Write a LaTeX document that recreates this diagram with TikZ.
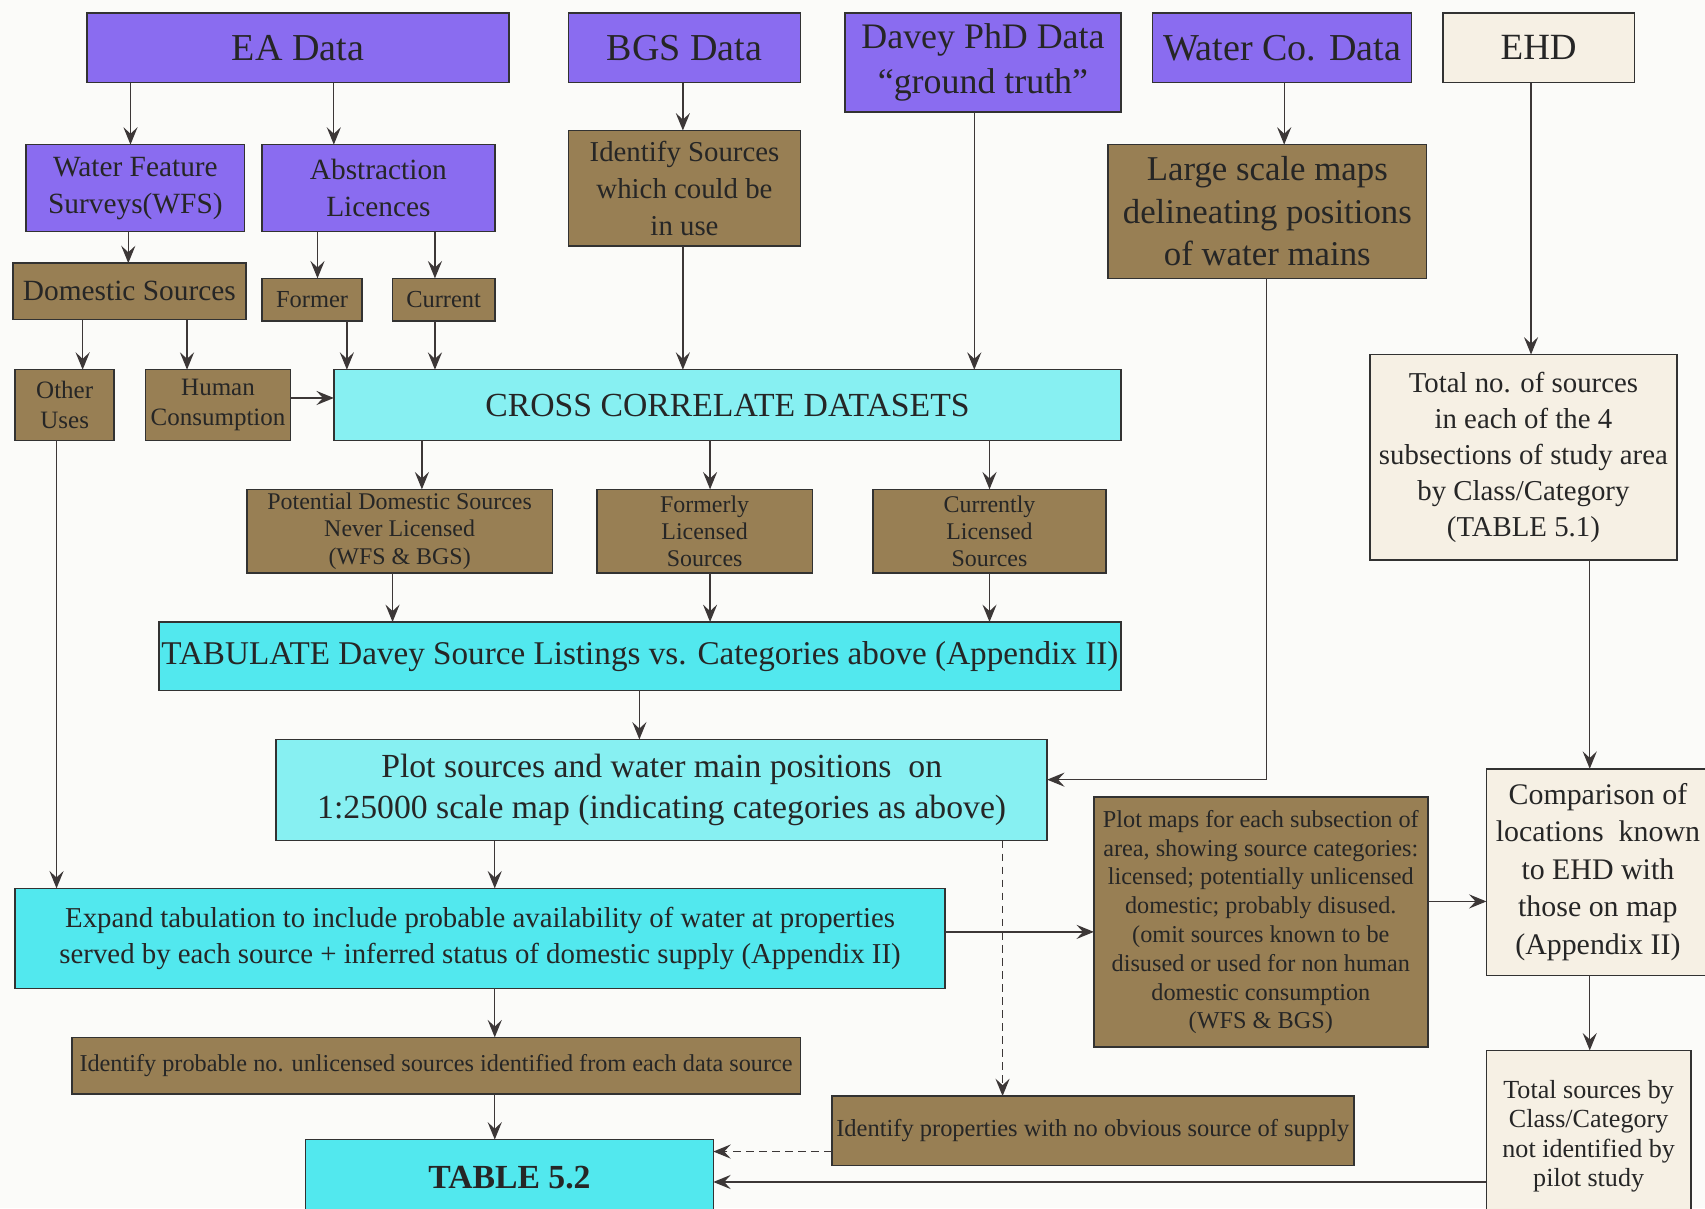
\documentclass[tikz,border=0pt]{standalone}
\usepackage{fontspec}
\setmainfont{Liberation Serif}
\usetikzlibrary{arrows.meta}
\definecolor{purp}{RGB}{138,108,240}
\definecolor{brn}{RGB}{152,127,84}
\definecolor{cyn}{RGB}{82,232,238}
\definecolor{lcyn}{RGB}{135,240,242}
\definecolor{crm}{RGB}{246,240,228}
\definecolor{bgc}{RGB}{251,251,249}
\definecolor{bordc}{RGB}{50,50,50}
\definecolor{linec}{RGB}{60,55,55}
\newcommand\bx[7]{%
  \pgfmathsetmacro\bxw{#4-#2}\pgfmathsetmacro\bxh{#5-#3}%
  \node[#6, minimum width=\bxw pt, minimum height=\bxh pt] (#1) at ({(#2+#4)/2},{(#3+#5)/2}) {#7};}
\begin{document}
\begin{tikzpicture}[x=1pt,y=-1pt,
  box/.style={draw=bordc, line width=1.4pt, inner sep=0pt, outer sep=0pt, align=center, text=black!85},
  pu/.style={box, fill=purp},
  br/.style={box, fill=brn},
  cy/.style={box, fill=cyn},
  lc/.style={box, fill=lcyn},
  cr/.style={box, fill=crm},
  fs/.style 2 args={font=\fontsize{#1}{#2}\selectfont},
  arr/.style={draw=linec, line width=1.2pt, -{Stealth[length=16pt,width=13pt,inset=6pt]}},
  dsh/.style={arr, dash pattern=on 7pt off 5pt}]
\fill[bgc] (0,0) rectangle (1568,1111);
\useasboundingbox (0,0) rectangle (1568,1111);

% row 1
\bx{ea}{80}{12}{468}{76}{pu,fs={35}{40}}{EA Data}
\bx{bgs}{523}{12}{736}{76}{pu,fs={35}{40}}{BGS Data}
\bx{dav}{777}{12}{1031}{103}{pu,fs={33}{41}}{Davey PhD Data\\“ground truth”}
\bx{wco}{1060}{12}{1298}{76}{pu,fs={35}{40}}{Water Co. Data}
\bx{ehd}{1327}{12}{1503}{76}{cr,fs={34}{40}}{EHD}

% row 2
\bx{wfs}{24}{133}{225}{213}{pu,fs={27}{34}}{Water Feature\\Surveys(WFS)}
\bx{abs}{241}{133}{455}{213}{pu,fs={27}{34}}{Abstraction\\Licences}
\bx{ids}{523}{120}{736}{226}{br,fs={26.5}{34}}{Identify Sources\\which could be\\in use}
\bx{lsm}{1019}{133}{1312}{256}{br,fs={32}{39}}{Large scale maps\\delineating positions\\of water mains}

% row 3
\bx{dom}{12}{242}{226}{294}{br,fs={27}{30}}{Domestic Sources}
\bx{for}{241}{256}{333}{295}{br,fs={22.5}{26}}{Former}
\bx{cur}{361}{256}{455}{295}{br,fs={22.5}{26}}{Current}

% row 4
\bx{oth}{14}{340}{105}{405}{br,fs={23}{28}}{Other\\Uses}
\bx{hum}{134}{340}{267}{405}{br,fs={23}{28}}{Human\\Consumption}
\bx{cross}{307}{340}{1031}{405}{lc,fs={31}{36}}{CROSS CORRELATE DATASETS}
\bx{tot}{1260}{326}{1542}{515}{cr,fs={26.5}{33}}{Total no. of sources\\in each of the 4\\subsections of study area\\by Class/Category\\(TABLE 5.1)}

% row 5
\bx{pot}{227}{450}{508}{527}{br,fs={22}{25}}{Potential Domestic Sources\\Never Licensed\\(WFS \& BGS)}
\bx{fls}{549}{450}{747}{527}{br,fs={22}{25}}{Formerly\\Licensed\\Sources}
\bx{cls}{803}{450}{1017}{527}{br,fs={22}{25}}{Currently\\Licensed\\Sources}

% row 6
\bx{tabu}{146}{572}{1031}{635}{cy,fs={30.5}{34}}{TABULATE Davey Source Listings vs. Categories above (Appendix II)}

% row 7
\bx{plot}{254}{680}{963}{773}{lc,fs={31}{38}}{Plot sources and water main positions\ \ on\\1:25000 scale map (indicating categories as above)}
\bx{comp}{1367}{707}{1572}{897}{cr,fs={27.5}{34.5}}{Comparison of\\locations\ \ known\\to EHD with\\those on map\\(Appendix II)}
\bx{pmap}{1006}{733}{1313}{963}{br,fs={22.3}{26.5}}{Plot maps for each subsection of\\area, showing source categories:\\licensed; potentially unlicensed\\domestic; probably disused.\\(omit sources known to be\\disused or used for non human\\domestic consumption\\(WFS \& BGS)}

% row 8
\bx{exp}{14}{817}{869}{909}{cy,fs={26.5}{33}}{Expand tabulation to include probable availability of water at properties\\served by each source + inferred status of domestic supply (Appendix II)}

% row 9
\bx{idp}{66}{954}{736}{1006}{br,fs={22.3}{26}}{Identify probable no. unlicensed sources identified from each data source}
\bx{tsb}{1367}{966}{1555}{1124}{cr,fs={24}{27}}{Total sources by\\Class/Category\\not identified by\\pilot study}
\bx{ipr}{765}{1008}{1245}{1072}{br,fs={22.5}{26}}{Identify properties with no obvious source of supply}

% row 10
\bx{t52}{281}{1048}{656}{1118}{cy,fs={31}{36}}{\bfseries TABLE 5.2}

% connectors
\draw[arr] (ea.south -| 120,0) -- (wfs.north -| 120,0);
\draw[arr] (ea.south -| 307,0) -- (abs.north -| 307,0);
\draw[arr] (bgs.south -| 628,0) -- (ids.north -| 628,0);
\draw[arr] (dav.south -| 896,0) -- (cross.north -| 896,0);
\draw[arr] (wco.south -| 1181,0) -- (lsm.north -| 1181,0);
\draw[arr] (ehd.south -| 1408,0) -- (tot.north -| 1408,0);
\draw[arr] (wfs.south -| 118,0) -- (dom.north -| 118,0);
\draw[arr] (abs.south -| 292,0) -- (for.north -| 292,0);
\draw[arr] (abs.south -| 400,0) -- (cur.north -| 400,0);
\draw[arr] (dom.south -| 76,0) -- (oth.north -| 76,0);
\draw[arr] (dom.south -| 172,0) -- (hum.north -| 172,0);
\draw[arr] (for.south -| 319,0) -- (cross.north -| 319,0);
\draw[arr] (cur.south -| 400,0) -- (cross.north -| 400,0);
\draw[arr] (ids.south -| 628,0) -- (cross.north -| 628,0);
\draw[arr] (hum.east |- 0,366) -- (cross.west |- 0,366);
\draw[arr] (cross.south -| 388,0) -- (pot.north -| 388,0);
\draw[arr] (cross.south -| 653,0) -- (fls.north -| 653,0);
\draw[arr] (cross.south -| 910,0) -- (cls.north -| 910,0);
\draw[arr] (pot.south -| 361,0) -- (tabu.north -| 361,0);
\draw[arr] (fls.south -| 653,0) -- (tabu.north -| 653,0);
\draw[arr] (cls.south -| 910,0) -- (tabu.north -| 910,0);
\draw[arr] (tabu.south -| 588,0) -- (plot.north -| 588,0);
\draw[arr] (lsm.south -| 1165,0) |- (plot.east |- 0,717);
\draw[arr] (tot.south -| 1462,0) -- (comp.north -| 1462,0);
\draw[arr] (oth.south -| 52,0) -- (exp.north -| 52,0);
\draw[arr] (plot.south -| 455,0) -- (exp.north -| 455,0);
\draw[dsh] (plot.south -| 922,0) -- (ipr.north -| 922,0);
\draw[arr] (exp.east |- 0,857) -- (pmap.west |- 0,857);
\draw[arr] (pmap.east |- 0,829) -- (comp.west |- 0,829);
\draw[arr] (comp.south -| 1462,0) -- (tsb.north -| 1462,0);
\draw[arr] (exp.south -| 455,0) -- (idp.north -| 455,0);
\draw[arr] (idp.south -| 455,0) -- (t52.north -| 455,0);
\draw[dsh] (ipr.west |- 0,1059) -- (t52.east |- 0,1059);
\draw[arr] (tsb.west |- 0,1087) -- (t52.east |- 0,1087);
\end{tikzpicture}
\end{document}
